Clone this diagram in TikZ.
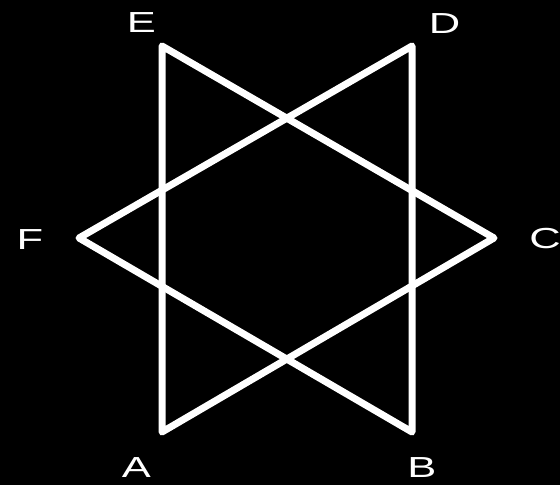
\documentclass[tikz,border=0pt]{standalone}
\usepackage{fontspec}
\setmainfont{Liberation Sans}
\tikzset{
  edge/.style={draw=white, line width=7pt, line join=round, line cap=round},
  lbl/.style={text=white, font=\fontsize{29}{29}\selectfont, xscale=1.5, inner sep=0pt, anchor=center}
}
\begin{document}
\begin{tikzpicture}[x=1pt,y=-1pt]
  \fill[black] (0,0) rectangle (560,485);
  \useasboundingbox (0,0) rectangle (560,485);
  \coordinate (E) at (162,46);
  \coordinate (D) at (412,46);
  \coordinate (C) at (494,238);
  \coordinate (B) at (412,432);
  \coordinate (A) at (162,432);
  \coordinate (F) at (79,238);
  \draw[edge] (E) -- (C) -- (A) -- cycle;
  \draw[edge] (D) -- (F) -- (B) -- cycle;
  \node[lbl] (lE) at (141.5,22.5) {E};
  \node[lbl] (lD) at (444.5,24) {D};
  \node[lbl] (lC) at (545,239) {C};
  \node[lbl] (lB) at (422,468) {B};
  \node[lbl] (lA) at (136.5,467.5) {A};
  \node[lbl] (lF) at (30,239.5) {F};
\end{tikzpicture}
\end{document}
